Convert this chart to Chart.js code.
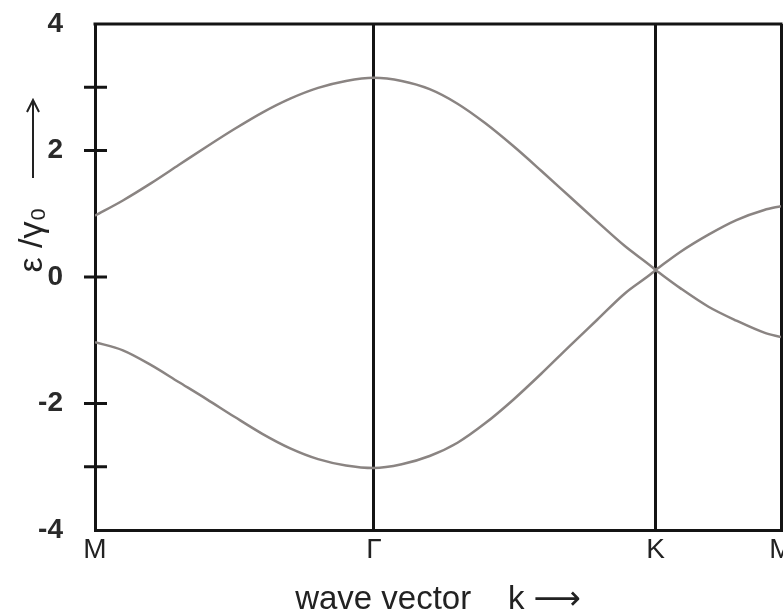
<!DOCTYPE html>
<html>
<head>
<meta charset="utf-8">
<script src="https://cdn.jsdelivr.net/npm/chart.js@4"></script>
<style>
  html, body { margin: 0; padding: 0; background: #fff; overflow: hidden; }
  #wrap { width: 800px; height: 613px; }
</style>
</head>
<body>
<div id="wrap"><canvas id="bands" width="800" height="613"></canvas></div>
<script>
// high-symmetry points along the k path
const symLabels = ['M', 'Γ', 'K', 'M'];
const symPos = [0, 1, 2.01, 2.46];
const yTickMarks = [3, 2, 0, -2, -3];

// M -> Γ -> K
const kLeft = [0, 0.1, 0.2, 0.3, 0.4, 0.5, 0.6, 0.7, 0.8, 0.9, 1.0,
               1.1, 1.2, 1.3, 1.4, 1.5, 1.6, 1.7, 1.8, 1.9, 2.0, 2.01];
const upperLeft = [0.97, 1.21, 1.48, 1.77, 2.06, 2.34, 2.60, 2.82, 2.99, 3.10, 3.15,
                   3.10, 2.97, 2.74, 2.43, 2.07, 1.68, 1.28, 0.88, 0.49, 0.15, 0.11];
const lowerLeft = [-1.03, -1.16, -1.39, -1.66, -1.93, -2.21, -2.48, -2.71, -2.88, -2.98, -3.02,
                   -2.96, -2.83, -2.62, -2.31, -1.94, -1.53, -1.10, -0.68, -0.26, 0.07, 0.11];

// K -> M
const kRight = [2.01, 2.1, 2.2, 2.3, 2.4, 2.46];
const upperRight = [0.11, 0.40, 0.67, 0.90, 1.06, 1.12];
const lowerRight = [0.11, -0.18, -0.47, -0.69, -0.88, -0.95];

const pts = (xs, ys) => xs.map((x, i) => ({ x: x, y: ys[i] }));
const lineColor = '#141414';
const bandColor = '#8a8482';

function band(data) {
    return {
        data: data,
        borderColor: bandColor,
        borderWidth: 2.5,
        pointRadius: 0,
        cubicInterpolationMode: 'monotone',
        fill: false
    };
}

// top edge, short ticks across the energy axis and the rotated energy label
const extras = {
    id: 'extras',
    afterDraw(chart) {
        const { ctx, chartArea: a, scales: { y } } = chart;
        ctx.save();
        ctx.strokeStyle = lineColor;
        ctx.lineWidth = 3;
        ctx.beginPath();
        ctx.moveTo(a.left - 1.5, a.top);
        ctx.lineTo(a.right + 1.5, a.top);
        yTickMarks.forEach(v => {
            const py = y.getPixelForValue(v);
            ctx.moveTo(a.left - 11, py);
            ctx.lineTo(a.left + 12, py);
        });
        ctx.stroke();

        // arrow pointing up the energy axis
        ctx.strokeStyle = '#222';
        ctx.lineWidth = 2;
        ctx.beginPath();
        ctx.moveTo(33, 178);
        ctx.lineTo(33, 100);
        ctx.moveTo(27, 112);
        ctx.lineTo(33, 100);
        ctx.lineTo(39, 112);
        ctx.stroke();

        ctx.translate(33, 240);
        ctx.rotate(-Math.PI / 2);
        ctx.fillStyle = '#222';
        ctx.font = '34px "Liberation Sans", "DejaVu Sans", sans-serif';
        ctx.textAlign = 'center';
        ctx.textBaseline = 'middle';
        ctx.fillText('ε /γ₀', 0, 0);
        ctx.restore();
    }
};

new Chart(document.getElementById('bands'), {
    type: 'line',
    data: {
        datasets: [
            band(pts(kLeft, upperLeft)),
            band(pts(kLeft, lowerLeft)),
            band(pts(kRight, upperRight)),
            band(pts(kRight, lowerRight))
        ]
    },
    options: {
        responsive: false,
        animation: false,
        layout: { padding: { top: 24, right: 19, left: 0, bottom: 0 } },
        plugins: {
            legend: { display: false },
            tooltip: { enabled: false }
        },
        scales: {
            x: {
                type: 'linear',
                min: 0,
                max: 2.46,
                afterBuildTicks: scale => {
                    scale.ticks = symPos.map(v => ({ value: v }));
                },
                afterFit: scale => { scale.height = 83; },
                ticks: {
                    autoSkip: false,
                    maxRotation: 0,
                    padding: 3,
                    color: '#222',
                    font: { family: '"Liberation Sans", sans-serif', size: 28 },
                    callback: (v, i) => symLabels[i]
                },
                grid: { color: lineColor, lineWidth: 3, drawTicks: false },
                border: { color: lineColor, width: 3 },
                title: {
                    display: true,
                    text: 'wave vector    k ⟶',
                    color: '#222',
                    font: { family: '"Liberation Sans", "DejaVu Sans", sans-serif', size: 33 },
                    padding: { top: 0, bottom: -7 }
                }
            },
            y: {
                min: -4,
                max: 4,
                afterFit: scale => {
                    scale.width = 95;
                    scale.paddingTop = 0;
                    scale.paddingBottom = 0;
                },
                ticks: {
                    stepSize: 2,
                    padding: 24,
                    color: '#2a2a2a',
                    font: { family: '"Liberation Sans", sans-serif', size: 28, weight: 'bold' }
                },
                grid: { display: false },
                border: { color: lineColor, width: 3 }
            }
        }
    },
    plugins: [extras]
});
</script>
</body>
</html>
